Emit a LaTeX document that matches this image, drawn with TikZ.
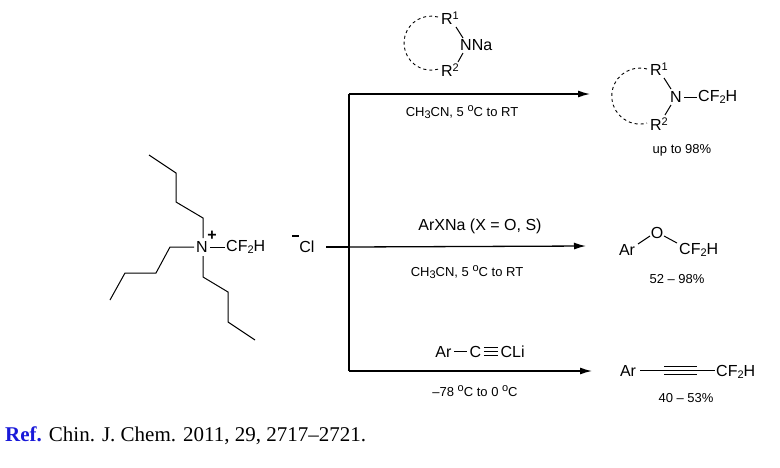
\documentclass[tikz,border=0pt]{standalone}
\usepackage{fontspec}
\setmainfont{Liberation Sans}
\newfontfamily\serif{Liberation Serif}
\usetikzlibrary{arrows.meta}
\newcommand{\sub}[1]{\raisebox{-2.5pt}{\fontsize{11}{11}\selectfont #1}}
\newcommand{\supr}[1]{\raisebox{5pt}{\fontsize{11}{11}\selectfont #1}}
\newcommand{\tripb}{\raisebox{1.5pt}{\rlap{\rule{14pt}{1pt}}\raisebox{4pt}{\rlap{\rule{14pt}{1pt}}}\raisebox{8pt}{\rule{14pt}{1pt}}}}
\begin{document}
\begin{tikzpicture}[x=1pt,y=-1pt,
  bond/.style={line width=1pt},
  rxn/.style={line width=1.3pt,-{Latex[length=12pt,width=7pt]}},
  ring/.style={line width=0.9pt,dash pattern=on 3pt off 3pt},
  lab/.style={inner sep=0pt,font=\fontsize{16}{16}\selectfont},
  cond/.style={inner sep=0pt,font=\fontsize{13}{13}\selectfont}]
\useasboundingbox (0,0) rectangle (780,467);
% ammonium
\node[lab] (N) at (202,247) {N};
\node[lab] (plus) at (212,236) {\textbf{+}};
\node[lab,anchor=west] (cf) at (226,247) {CF\sub{2}H};
\draw[bond] (210,247) -- (225,247);
\draw[bond] (203,238) -- (203,218) -- (176,202) -- (176,173) -- (149,155);
\draw[bond] (194,247) -- (170,247) -- (156,273) -- (125,273) -- (110,300);
\draw[bond] (203,256) -- (203,277) -- (228,292) -- (228,322) -- (255,340);
\node[lab] (cl) at (307,247) {Cl};
\draw[line width=1.6pt] (292,236) -- (299,236);
\coordinate (j) at (349,247);
\coordinate (jt) at (349,94);
\coordinate (jb) at (349,371);
\coordinate (e1) at (590,94);
\coordinate (e2) at (586,246);
\coordinate (e3) at (592,371);
\draw[line width=1.3pt] (326,247) -- (j);
\draw[line width=1.3pt] (jt) -- (jb);
\draw[rxn] (jt) -- (e1);
\draw[rxn] (j) -- (e2);
\draw[rxn] (jb) -- (e3);
% top reagent
\node[lab] (r1a) at (450,18) {R\supr{1}};
\node[lab,anchor=west] (nna) at (460,45) {NNa};
\node[lab] (r2a) at (450,70) {R\supr{2}};
\draw[bond] (456,27) -- (463,38);
\draw[bond] (463,53) -- (458,62);
\draw[ring] (438,17) arc[start angle=-75,end angle=-285,radius=27];
\node[cond] (c1) at (462,112) {CH\sub{3}CN, 5 \supr{o}C to RT};
% top product
\node[lab] (r1b) at (659,69) {R\supr{1}};
\node[lab] (nb) at (676,97) {N};
\node[lab,anchor=west] (cfb) at (698,97) {CF\sub{2}H};
\node[lab] (r2b) at (659,124) {R\supr{2}};
\draw[bond] (664,78) -- (671,89);
\draw[bond] (671,105) -- (665,115);
\draw[bond] (684,97) -- (697,97);
\draw[ring] (647,69) arc[start angle=-75,end angle=-285,radius=28];
\node[cond] (y1) at (682,150) {up to 98\%};
% middle
\node[lab] (ar2) at (480,226) {ArXNa (X = O, S)};
\node[cond] (c2) at (467,272) {CH\sub{3}CN, 5 \supr{o}C to RT};
\node[lab] (ar) at (627,250) {Ar};
\node[lab] (o) at (657,233) {O};
\node[lab,anchor=west] (cfc) at (679,250) {CF\sub{2}H};
\draw[bond] (638,244) -- (650,236);
\draw[bond] (664,236) -- (677,243);
\node[cond] (y2) at (677,279) {52 – 98\%};
% bottom
\node[lab] (ar3) at (480,352) {Ar\,\raisebox{5.5pt}{\rule{13pt}{1pt}}\,C\,\tripb\,CLi};
\node[cond] (c3) at (475,391) {–78 \supr{o}C to 0 \supr{o}C};
\node[lab] (ar4) at (628,371) {Ar};
\node[lab,anchor=west] (cfd) at (716,372) {CF\sub{2}H};
\draw[bond] (640,370) -- (715,370);
\draw[bond] (664,366) -- (697,366);
\draw[bond] (664,374) -- (697,374);
\node[cond] (y3) at (686,398) {40 – 53\%};
% ref
\node[anchor=west,inner sep=0pt,font=\serif\fontsize{21}{21}\selectfont] (ref) at (5,436) {\textcolor[rgb]{0.1,0.1,0.85}{\textbf{Ref.}} Chin. J. Chem. 2011, 29, 2717–2721.};
\end{tikzpicture}
\end{document}
